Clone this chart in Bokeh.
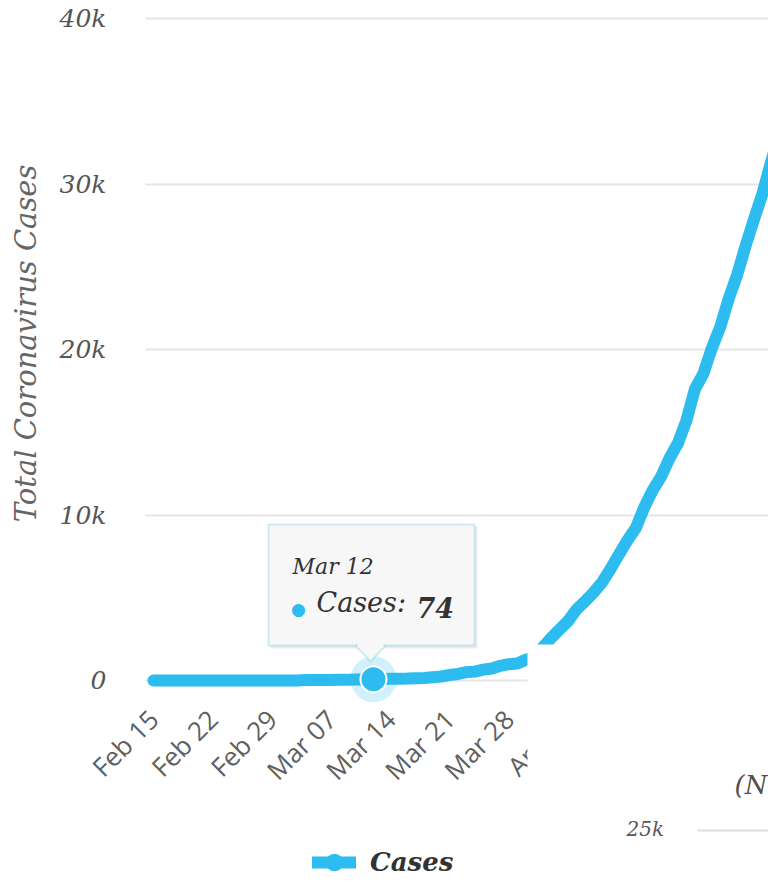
import math
import datetime as dt
import pandas as pd
from bokeh.plotting import figure
from bokeh.models import (Range1d, FixedTicker, DatetimeTickFormatter, NumeralTickFormatter,
                          Legend, LegendItem, BoxAnnotation, PolyAnnotation, Label)
from bokeh.embed import file_html
from bokeh.resources import INLINE

# ---------------- data ----------------
first_date = "2020-02-15"
cases = [3, 3, 3, 3, 3, 3, 3, 3, 3, 3, 3, 3, 3, 3, 3, 3, 3,          # Feb 15 - Mar 02
         5, 28, 30, 31, 34, 39, 43, 56, 62, 74, 82, 102, 110, 114,    # Mar 03 - Mar 16
         137, 151, 194, 244, 330, 396, 499, 536, 657, 727, 887, 987,  # Mar 17 - Mar 28
         1024, 1251, 1397, 1998, 2567, 3082, 3588, 4289, 4778, 5311,  # Mar 29 - Apr 07
         5916, 6725, 7600, 8446, 9205, 10453, 11487, 12322, 13430,    # Apr 08 - Apr 16
         14352, 15722, 17615, 18539, 20080, 21370, 23077, 24530,      # Apr 17 - Apr 24
         26283, 27890, 29451, 31324, 33062]                           # Apr 25 - Apr 29
dates = pd.date_range(first_date, periods=len(cases), freq="D")

x_tick_dates = ["2020-02-15", "2020-02-22", "2020-02-29", "2020-03-07", "2020-03-14",
                "2020-03-21", "2020-03-28", "2020-04-04", "2020-04-11", "2020-04-18",
                "2020-04-25"]
y_ticks = [0, 10000, 20000, 30000, 40000]

series_name = "Cases"
y_title = "Total Coronavirus Cases"
hover_date = "2020-03-12"
hover_label = "Mar 12"
hover_value = cases[list(dates).index(pd.Timestamp(hover_date))]

# texts of the second screenshot pasted over the bottom right corner
overlay_text_1 = "(N"
overlay_text_2 = "25k"

# ---------------- style ----------------
FONT = "DejaVu Serif"
SANS = "Open Sans"
CYAN = "#2dbcef"
GREY_TXT = "#595959"
DARK_TXT = "#333333"

EPOCH = dt.datetime(1970, 1, 1)
DAY_MS = 86400000.0


def ms(d):
    return (pd.Timestamp(d).to_pydatetime() - EPOCH).total_seconds() * 1000.0


X_REF = ms(first_date)
X_REF_PX = 153.0
PX_PER_DAY = 8.46
Y_ZERO_PX = 680.0
PX_PER_CASE = 0.01655
PLOT_LEFT_PX = 145


def xd(px):
    return X_REF + (px - X_REF_PX) / PX_PER_DAY * DAY_MS


def yd(py):
    return (Y_ZERO_PX - py) / PX_PER_CASE


p = figure(width=768, height=882, x_axis_type="datetime",
           x_range=Range1d(xd(0), xd(768)), y_range=Range1d(yd(882), yd(8)),
           output_backend="svg", toolbar_location=None,
           min_border_left=0, min_border_right=0, min_border_top=8, min_border_bottom=0)
p.outline_line_color = None
p.background_fill_color = "white"
p.border_fill_color = "white"

p.xgrid.grid_line_color = None
p.ygrid.grid_line_color = "#e6e6e6"
p.ygrid.grid_line_width = 2
# grid lines start at the plot area's left edge
p.add_layout(BoxAnnotation(left=xd(-20), right=xd(PLOT_LEFT_PX), level="underlay",
                           fill_color="white", fill_alpha=1.0, line_color=None))

# y axis
p.yaxis.fixed_location = xd(PLOT_LEFT_PX)
p.yaxis.ticker = FixedTicker(ticks=y_ticks)
p.yaxis.formatter = NumeralTickFormatter(format="0a")
p.yaxis.axis_line_color = None
p.yaxis.major_tick_line_color = None
p.yaxis.minor_tick_line_color = None
p.yaxis.major_label_text_font = FONT
p.yaxis.major_label_text_font_style = "italic"
p.yaxis.major_label_text_font_size = "25px"
p.yaxis.major_label_text_color = "#555555"
p.yaxis.major_label_standoff = 33
p.add_layout(Label(x=xd(25), y=yd(343), text=y_title, angle=math.pi / 2,
                   text_align="center", text_baseline="middle",
                   text_font=FONT, text_font_style="italic", text_font_size="29px",
                   text_color="#666666"))

# x axis: drawn just below the zero line
p.xaxis.fixed_location = yd(690)
p.xaxis.ticker = FixedTicker(ticks=[ms(d) for d in x_tick_dates])
p.xaxis.formatter = DatetimeTickFormatter(days="%b %d", months="%b %d")
p.xaxis.axis_line_color = None
p.xaxis.major_tick_line_color = None
p.xaxis.minor_tick_line_color = None
p.xaxis.major_label_orientation = 0.785398
p.xaxis.major_label_text_font = SANS
p.xaxis.major_label_text_font_style = "normal"
p.xaxis.major_label_text_font_size = "26px"
p.xaxis.major_label_text_color = "#606060"
p.xaxis.major_label_standoff = 18

# series
line_r = p.line(x=dates, y=cases, line_width=12, line_color=CYAN,
                line_cap="round", line_join="round")
hx = [pd.Timestamp(hover_date)]
hy = [hover_value]
p.scatter(x=hx, y=hy, size=46, fill_color=CYAN, fill_alpha=0.22, line_color=None)
p.scatter(x=hx, y=hy, size=26, fill_color=CYAN, line_color="white", line_width=2)
legend_marker = p.scatter(x=hx, y=hy, size=0, fill_color=CYAN, line_color=None)

# tooltip
p.add_layout(BoxAnnotation(left=xd(270), right=xd(477), top=yd(526), bottom=yd(648),
                           fill_color="#000000", fill_alpha=0.08, line_color=None))
p.add_layout(BoxAnnotation(left=xd(268), right=xd(474), top=yd(524), bottom=yd(645),
                           fill_color="#f7f7f7", fill_alpha=1.0,
                           line_color="#5cc6e6", line_width=2))
p.add_layout(PolyAnnotation(xs=[xd(355), xd(385), xd(370)], ys=[yd(645), yd(645), yd(661)],
                            fill_color="#f7f7f7", fill_alpha=1.0,
                            line_color="#5cc6e6", line_width=2))
p.add_layout(BoxAnnotation(left=xd(357), right=xd(383), top=yd(641), bottom=yd(647),
                           fill_color="#f7f7f7", fill_alpha=1.0, line_color=None))
p.add_layout(Label(x=xd(292), y=yd(578), text=hover_label, text_font=FONT,
                   text_font_style="italic", text_font_size="22px", text_color=DARK_TXT))
p.add_layout(Label(x=xd(298), y=yd(608), text="\u25CF", text_font=FONT, text_align="center",
                   text_baseline="middle", text_font_size="17px", text_color=CYAN))
p.add_layout(Label(x=xd(316), y=yd(617), text=series_name + ":", text_font=FONT,
                   text_font_style="italic", text_font_size="27px", text_color=DARK_TXT))
p.add_layout(Label(x=xd(416), y=yd(617), text=str(hover_value), text_font=FONT,
                   text_font_style="bold italic", text_font_size="27px", text_color=DARK_TXT))

# white panel pasted over the bottom right corner, with what shows of it
p.add_layout(BoxAnnotation(left=xd(527), right=xd(800), top=yd(644), bottom=yd(900),
                           fill_color="white", fill_alpha=1.0, line_color=None))
p.add_layout(BoxAnnotation(left=xd(697), right=xd(800), top=yd(829), bottom=yd(831),
                           fill_color="#dddddd", fill_alpha=1.0, line_color=None))
p.add_layout(Label(x=xd(767), y=yd(799), text=overlay_text_1, text_align="right",
                   text_font=FONT, text_font_style="italic", text_font_size="26px",
                   text_color="#505050"))
p.add_layout(Label(x=xd(626), y=yd(840), text=overlay_text_2, text_font=FONT,
                   text_font_style="italic", text_font_size="20px", text_color=GREY_TXT))

# legend
legend = Legend(items=[LegendItem(label=series_name, renderers=[line_r, legend_marker])],
                location=(312, -5), orientation="horizontal",
                label_text_font=FONT, label_text_font_style="bold italic",
                label_text_font_size="26px", label_text_color=DARK_TXT,
                glyph_width=44, glyph_height=50, label_standoff=14,
                padding=0, margin=0, border_line_color=None,
                background_fill_alpha=0.0)
p.add_layout(legend)

open("out.html", "w").write(file_html(p, INLINE))
